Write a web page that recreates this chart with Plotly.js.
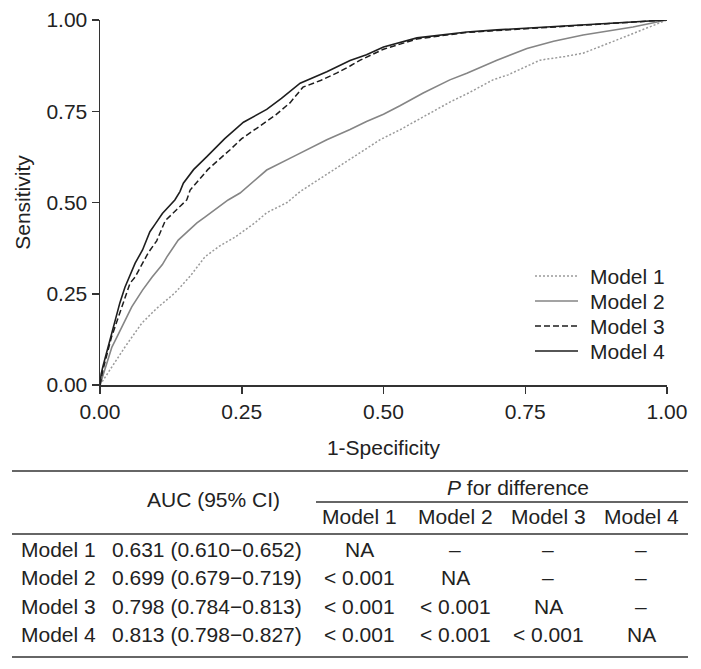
<!DOCTYPE html>
<html>
<head>
<meta charset="utf-8">
<script src="https://cdn.plot.ly/plotly-3.0.1.min.js"></script>
<style>
  html, body { margin: 0; padding: 0; background: #fff; }
</style>
</head>
<body>
<div id="roc" style="width:701px;height:669px"></div>
<script>
// ROC curves (1-specificity, sensitivity)
var modelNames = ['Model 1', 'Model 2', 'Model 3', 'Model 4'];

var fpr1 = [0, 0.014, 0.03, 0.044, 0.074, 0.1, 0.132, 0.16, 0.185, 0.21, 0.238, 0.273, 0.294, 0.33, 0.353, 0.406, 0.441, 0.494, 0.53, 0.57, 0.617, 0.65, 0.693, 0.72, 0.776, 0.82, 0.852, 0.911, 0.97, 1];
var tpr1 = [0, 0.033, 0.07, 0.104, 0.17, 0.21, 0.252, 0.3, 0.351, 0.38, 0.405, 0.444, 0.472, 0.5, 0.53, 0.584, 0.62, 0.672, 0.7, 0.734, 0.775, 0.8, 0.836, 0.85, 0.89, 0.9, 0.909, 0.945, 0.981, 1];

var fpr2 = [0, 0.01, 0.021, 0.03, 0.056, 0.075, 0.092, 0.11, 0.118, 0.138, 0.171, 0.185, 0.226, 0.247, 0.277, 0.294, 0.34, 0.4, 0.441, 0.47, 0.5, 0.529, 0.57, 0.617, 0.647, 0.7, 0.753, 0.8, 0.852, 0.94, 1];
var tpr2 = [0, 0.05, 0.104, 0.132, 0.214, 0.26, 0.296, 0.33, 0.351, 0.397, 0.444, 0.46, 0.507, 0.526, 0.565, 0.589, 0.625, 0.672, 0.7, 0.722, 0.742, 0.765, 0.8, 0.836, 0.854, 0.89, 0.922, 0.942, 0.959, 0.981, 1];

var fpr3 = [0, 0.005, 0.02, 0.035, 0.053, 0.062, 0.085, 0.1, 0.115, 0.135, 0.153, 0.159, 0.19, 0.229, 0.25, 0.277, 0.31, 0.335, 0.358, 0.39, 0.418, 0.441, 0.459, 0.5, 0.559, 0.647, 0.794, 0.9, 1];
var tpr3 = [0, 0.04, 0.13, 0.2, 0.279, 0.296, 0.362, 0.395, 0.45, 0.48, 0.507, 0.534, 0.59, 0.644, 0.675, 0.704, 0.74, 0.773, 0.816, 0.835, 0.855, 0.874, 0.89, 0.92, 0.948, 0.966, 0.981, 0.99, 1];

var fpr4 = [0, 0.002, 0.005, 0.015, 0.026, 0.035, 0.044, 0.062, 0.075, 0.088, 0.097, 0.11, 0.132, 0.141, 0.147, 0.165, 0.188, 0.22, 0.253, 0.294, 0.32, 0.353, 0.4, 0.441, 0.47, 0.5, 0.559, 0.6, 0.647, 0.7, 0.794, 0.9, 1];
var tpr4 = [0, 0.03, 0.05, 0.11, 0.178, 0.225, 0.268, 0.334, 0.37, 0.42, 0.44, 0.47, 0.507, 0.53, 0.553, 0.59, 0.625, 0.675, 0.72, 0.755, 0.785, 0.827, 0.858, 0.889, 0.905, 0.926, 0.951, 0.958, 0.967, 0.973, 0.981, 0.99, 1];

// table contents
var aucText = ['0.631 (0.610\u22120.652)', '0.699 (0.679\u22120.719)', '0.798 (0.784\u22120.813)', '0.813 (0.798\u22120.827)'];
var pDiff = [
  ['NA', '\u2013', '\u2013', '\u2013'],
  ['< 0.001', 'NA', '\u2013', '\u2013'],
  ['< 0.001', '< 0.001', 'NA', '\u2013'],
  ['< 0.001', '< 0.001', '< 0.001', 'NA']
];

var tickVals = [0, 0.25, 0.5, 0.75, 1];
var tickText = ['0.00', '0.25', '0.50', '0.75', '1.00'];

var FONT = 'Liberation Sans, Arial, Helvetica, sans-serif';
var FS = 21;
var INK = '#222';

// plot box in pixels
var W = 701, H = 669;
var mL = 100, mR = 34, mT = 20, mB = 284;
var plotW = W - mL - mR, plotH = H - mT - mB;
function px(x) { return (x - mL) / plotW; }
function py(y) { return (H - mB - y) / plotH; }

var styles = [
  {color: '#9a9a9a', width: 1.5, dash: '2px,2px'},
  {color: '#858585', width: 1.6, dash: 'solid'},
  {color: '#1e1e1e', width: 1.5, dash: '6px,3px'},
  {color: '#1e1e1e', width: 1.6, dash: 'solid'}
];
var xs = [fpr1, fpr2, fpr3, fpr4];
var ys = [tpr1, tpr2, tpr3, tpr4];

var traces = modelNames.map(function (name, i) {
  return {
    x: xs[i], y: ys[i], name: name,
    type: 'scatter', mode: 'lines',
    line: styles[i],
    cliponaxis: false,
    showlegend: false,
    hoverinfo: 'x+y+name'
  };
});

var shapes = [];
var annotations = [];
function rule(x0, x1, y, line) {
  shapes.push({type: 'line', xref: 'paper', yref: 'paper',
    x0: px(x0), x1: px(x1), y0: py(y), y1: py(y),
    line: line || {color: '#333', width: 1.5}});
}
function txt(text, x, y, anchor) {
  annotations.push({text: text, xref: 'paper', yref: 'paper',
    x: px(x), y: py(y), xanchor: anchor || 'center', yanchor: 'middle',
    showarrow: false, font: {family: FONT, size: FS, color: INK}});
}

// legend (compact rows, like the original)
var legY = [276, 301, 326, 351];
modelNames.forEach(function (m, i) {
  rule(535, 578, legY[i], styles[i]);
  txt(m, 588, legY[i], 'left');
});

// table: rules and text
rule(12, 688, 471);
rule(316, 688, 502);
rule(12, 688, 534);
rule(12, 688, 657);

var colX = [359, 455, 548, 641];
var rowY = [549, 577, 606, 634];

txt('AUC (95% CI)', 213, 499);
txt('<i>P</i> for difference', 518, 487);
modelNames.forEach(function (m, j) { txt(m, colX[j], 516); });
modelNames.forEach(function (m, i) {
  txt(m, 19, rowY[i], 'left');
  txt(aucText[i], 110, rowY[i], 'left');
  pDiff[i].forEach(function (v, j) { txt(v, colX[j], rowY[i]); });
});

var axisCommon = {
  range: [0, 1], fixedrange: true,
  showline: true, linecolor: '#333', linewidth: 1.5,
  ticks: 'outside', ticklen: 7, tickwidth: 1.5, tickcolor: '#333',
  tickvals: tickVals, ticktext: tickText,
  tickfont: {family: FONT, size: FS, color: INK},
  showgrid: false, zeroline: false
};

var layout = {
  width: W, height: H,
  margin: {l: mL, r: mR, t: mT, b: mB},
  paper_bgcolor: '#fff', plot_bgcolor: '#fff',
  font: {family: FONT, size: FS, color: INK},
  showlegend: false,
  xaxis: Object.assign({}, axisCommon, {
    title: {text: '1-Specificity', font: {family: FONT, size: FS, color: INK}, standoff: 18}
  }),
  yaxis: Object.assign({}, axisCommon, {
    title: {text: 'Sensitivity', font: {family: FONT, size: FS, color: INK}, standoff: 10}
  }),
  shapes: shapes,
  annotations: annotations
};

Plotly.newPlot('roc', traces, layout, {displayModeBar: false, staticPlot: true});
</script>
</body>
</html>
